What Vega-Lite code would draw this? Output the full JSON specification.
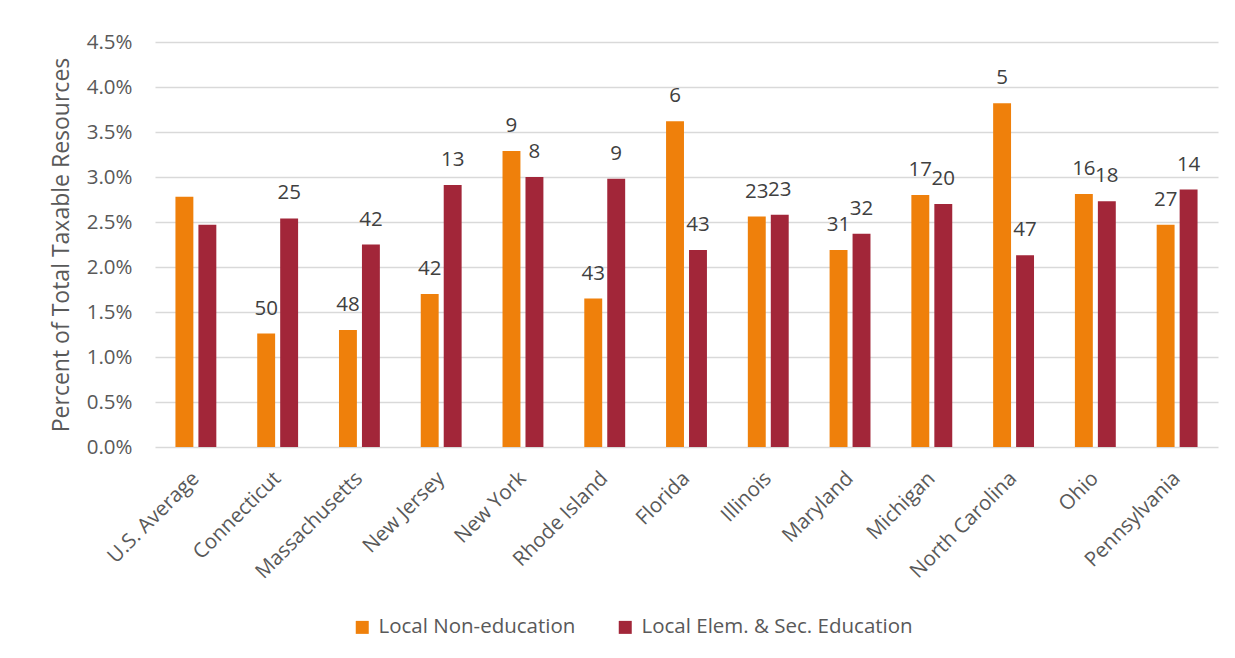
{
  "$schema": "https://vega.github.io/schema/vega-lite/v6.json",
  "width": 1063,
  "height": 405,
  "autosize": {"type": "none"},
  "padding": {"left": 155, "top": 42, "right": 17, "bottom": 211},
  "background": "white",
  "config": {"view": {"stroke": null}, "font": "Open Sans"},
  "data": {
    "values": [
      {"state": "U.S. Average", "series": "Local Non-education", "value": 0.0278, "rank": null},
      {"state": "U.S. Average", "series": "Local Elem. & Sec. Education", "value": 0.0247, "rank": null},
      {"state": "Connecticut", "series": "Local Non-education", "value": 0.0126, "rank": 50},
      {"state": "Connecticut", "series": "Local Elem. & Sec. Education", "value": 0.0254, "rank": 25},
      {"state": "Massachusetts", "series": "Local Non-education", "value": 0.0130, "rank": 48},
      {"state": "Massachusetts", "series": "Local Elem. & Sec. Education", "value": 0.0225, "rank": 42},
      {"state": "New Jersey", "series": "Local Non-education", "value": 0.0170, "rank": 42},
      {"state": "New Jersey", "series": "Local Elem. & Sec. Education", "value": 0.0291, "rank": 13},
      {"state": "New York", "series": "Local Non-education", "value": 0.0329, "rank": 9},
      {"state": "New York", "series": "Local Elem. & Sec. Education", "value": 0.0300, "rank": 8},
      {"state": "Rhode Island", "series": "Local Non-education", "value": 0.0165, "rank": 43},
      {"state": "Rhode Island", "series": "Local Elem. & Sec. Education", "value": 0.0298, "rank": 9},
      {"state": "Florida", "series": "Local Non-education", "value": 0.0362, "rank": 6},
      {"state": "Florida", "series": "Local Elem. & Sec. Education", "value": 0.0219, "rank": 43},
      {"state": "Illinois", "series": "Local Non-education", "value": 0.0256, "rank": 23},
      {"state": "Illinois", "series": "Local Elem. & Sec. Education", "value": 0.0258, "rank": 23},
      {"state": "Maryland", "series": "Local Non-education", "value": 0.0219, "rank": 31},
      {"state": "Maryland", "series": "Local Elem. & Sec. Education", "value": 0.0237, "rank": 32},
      {"state": "Michigan", "series": "Local Non-education", "value": 0.0280, "rank": 17},
      {"state": "Michigan", "series": "Local Elem. & Sec. Education", "value": 0.0270, "rank": 20},
      {"state": "North Carolina", "series": "Local Non-education", "value": 0.0382, "rank": 5},
      {"state": "North Carolina", "series": "Local Elem. & Sec. Education", "value": 0.0213, "rank": 47},
      {"state": "Ohio", "series": "Local Non-education", "value": 0.0281, "rank": 16},
      {"state": "Ohio", "series": "Local Elem. & Sec. Education", "value": 0.0273, "rank": 18},
      {"state": "Pennsylvania", "series": "Local Non-education", "value": 0.0247, "rank": 27},
      {"state": "Pennsylvania", "series": "Local Elem. & Sec. Education", "value": 0.0286, "rank": 14}
    ]
  },
  "encoding": {
    "x": {
      "field": "state",
      "type": "nominal",
      "sort": null,
      "scale": {"paddingInner": 0.5, "paddingOuter": 0.25},
      "axis": {
        "title": null,
        "labelAngle": -45,
        "labelAlign": "right",
        "labelBaseline": "middle",
        "labelFontSize": 20.5,
        "labelColor": "#595959",
        "labelPadding": 28,
        "ticks": false,
        "domain": false,
        "labelLimit": 0
      }
    },
    "xOffset": {
      "field": "series",
      "type": "nominal",
      "sort": ["Local Non-education", "Local Elem. & Sec. Education"],
      "scale": {"paddingInner": 0.22}
    },
    "y": {
      "field": "value",
      "type": "quantitative",
      "scale": {"domain": [0, 0.045], "nice": false},
      "axis": {
        "title": "Percent of Total Taxable Resources",
        "titleFontSize": 23,
        "titleFontWeight": "normal",
        "titleColor": "#595959",
        "titlePadding": 13,
        "values": [0, 0.005, 0.01, 0.015, 0.02, 0.025, 0.03, 0.035, 0.04, 0.045],
        "format": ".1%",
        "labelFontSize": 20.5,
        "labelColor": "#595959",
        "labelPadding": 23,
        "ticks": false,
        "domain": false,
        "gridColor": "#d9d9d9",
        "gridWidth": 1.5
      }
    }
  },
  "layer": [
    {
      "mark": {"type": "bar"},
      "encoding": {
        "color": {
          "field": "series",
          "type": "nominal",
          "sort": ["Local Non-education", "Local Elem. & Sec. Education"],
          "scale": {"domain": ["Local Non-education", "Local Elem. & Sec. Education"], "range": ["#EF800B", "#A22639"]},
          "legend": {
            "title": null,
            "orient": "none",
            "direction": "horizontal",
            "legendX": 197,
            "legendY": 575,
            "symbolType": "square",
            "symbolSize": 169,
            "symbolStrokeWidth": 0,
            "labelFontSize": 20.5,
            "labelColor": "#595959",
            "labelLimit": 0,
            "labelOffset": 6,
            "columnPadding": 39
          }
        }
      }
    },
    {
      "transform": [{"filter": "datum.rank != null"}],
      "mark": {"type": "text", "baseline": "middle", "dy": -25, "fontSize": 20.5, "color": "#404040"},
      "encoding": {"text": {"field": "rank", "type": "quantitative"}}
    }
  ]
}
